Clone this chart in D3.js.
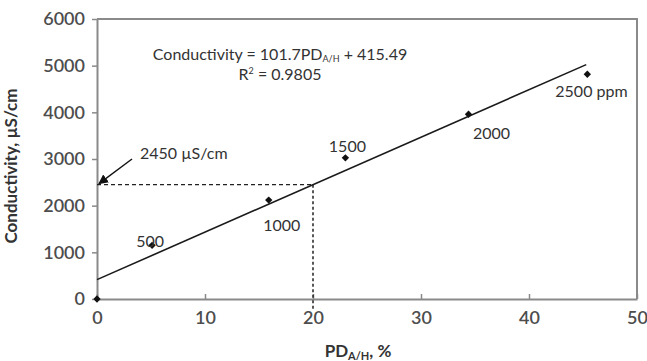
<!DOCTYPE html>
<html>
<head>
<meta charset="utf-8">
<script src="https://cdn.jsdelivr.net/npm/d3@7"></script>
<style>
  body { margin: 0; background: #fff; }
  text { font-family: Lato, "Open Sans", sans-serif; }
</style>
</head>
<body>
<script>
var pd_values = [0, 5.1, 15.9, 23.0, 34.4, 45.4];
var conductivity_values = [0, 1150, 2120, 3025, 3960, 4815];
var point_labels = ["", "500", "1000", "1500", "2000", "2500 ppm"];
var x_ticks = [0, 10, 20, 30, 40, 50];
var y_ticks = [0, 1000, 2000, 3000, 4000, 5000, 6000];
var fit_slope = 101.7;
var fit_intercept = 415.49;
var fit_range = [0, 45.3];
var target_pd = 20;
var target_conductivity = 2450;

var svg_width = 647, svg_height = 361;
var margin = {left: 97, right: 10, top: 19, bottom: 62};
var plot_width = svg_width - margin.left - margin.right;
var plot_height = svg_height - margin.top - margin.bottom;

var svg = d3.select("body").append("svg")
  .attr("width", svg_width).attr("height", svg_height);

var chartGroup = svg.append("g")
  .attr("transform", "translate(" + margin.left + "," + margin.top + ")");

var x = d3.scaleLinear().domain([0, 50]).range([0, plot_width]);
var y = d3.scaleLinear().domain([0, 6000]).range([plot_height, 0]);

// frame (top, right)
chartGroup.append("path")
  .attr("d", "M0,0H" + plot_width + "V" + plot_height)
  .attr("fill", "none").attr("stroke", "#8a8a8a").attr("stroke-width", 2);

// axes
var xAxis = d3.axisBottom(x).tickValues(x_ticks).tickFormat(d3.format("d"))
  .tickSizeInner(-5).tickSizeOuter(0).tickPadding(20);
var yAxis = d3.axisLeft(y).tickValues(y_ticks).tickFormat(d3.format("d"))
  .tickSizeInner(5).tickSizeOuter(0).tickPadding(7);

var gx = chartGroup.append("g")
  .attr("transform", "translate(0," + plot_height + ")")
  .call(xAxis);
var gy = chartGroup.append("g").call(yAxis);

[gx, gy].forEach(function(g)
{
  g.select(".domain").attr("stroke", "#8a8a8a").attr("stroke-width", 2);
  g.selectAll(".tick line").attr("stroke", "#8a8a8a").attr("stroke-width", 1.5);
  g.selectAll(".tick text")
    .attr("fill", "#4d4d4d")
    .attr("font-size", 18)
    .attr("font-family", "'Open Sans', sans-serif")
    .attr("font-weight", 600);
});
gx.selectAll(".tick text").attr("dy", "0.3em");

// dashed guide lines
chartGroup.append("line")
  .attr("x1", x(0)).attr("x2", x(target_pd))
  .attr("y1", y(target_conductivity)).attr("y2", y(target_conductivity))
  .attr("stroke", "#222").attr("stroke-width", 1.3).attr("stroke-dasharray", "4,3");
chartGroup.append("line")
  .attr("x1", x(target_pd)).attr("x2", x(target_pd))
  .attr("y1", y(target_conductivity)).attr("y2", plot_height + 12)
  .attr("stroke", "#222").attr("stroke-width", 1.5).attr("stroke-dasharray", "3,2.5");

// trend line
chartGroup.append("line")
  .attr("x1", x(fit_range[0])).attr("y1", y(fit_slope * fit_range[0] + fit_intercept))
  .attr("x2", x(fit_range[1])).attr("y2", y(fit_slope * fit_range[1] + fit_intercept))
  .attr("stroke", "#1a1a1a").attr("stroke-width", 1.6);

// data points
var points = pd_values.map(function(d, i)
{
  return {pd: d, cond: conductivity_values[i], label: point_labels[i]};
});

chartGroup.selectAll("rect.point").data(points)
  .enter().append("rect")
  .attr("class", "point")
  .attr("x", -2.6).attr("y", -2.6).attr("width", 5.2).attr("height", 5.2)
  .attr("transform", function(d) { return "translate(" + x(d.pd) + "," + y(d.cond) + ") rotate(45)"; })
  .attr("fill", "#111");

// point labels, nudged off the markers
var label_offsets = [[0, 0], [-2, 2], [13, 31], [2, -6], [23, 25], [-32, 23]];
chartGroup.selectAll("text.plabel").data(points)
  .enter().append("text")
  .attr("class", "plabel")
  .attr("x", function(d, i) { return x(d.pd) + label_offsets[i][0]; })
  .attr("y", function(d, i) { return y(d.cond) + label_offsets[i][1]; })
  .attr("text-anchor", function(d, i) { return i == 5 ? "start" : "middle"; })
  .attr("font-size", 16)
  .attr("fill", "#333")
  .text(function(d) { return d.label; });

// arrow to 2450
svg.append("defs").append("marker")
  .attr("id", "arrowhead")
  .attr("viewBox", "0 0 10 10").attr("refX", 9).attr("refY", 5)
  .attr("markerWidth", 7).attr("markerHeight", 7)
  .attr("orient", "auto")
  .append("path").attr("d", "M0,0L10,5L0,10z").attr("fill", "#111");

chartGroup.append("line")
  .attr("x1", 35).attr("y1", 140)
  .attr("x2", x(0) + 2).attr("y2", y(target_conductivity) - 1)
  .attr("stroke", "#111").attr("stroke-width", 1.4)
  .attr("marker-end", "url(#arrowhead)");

chartGroup.append("text")
  .attr("x", 43).attr("y", 140)
  .attr("font-size", 16).attr("fill", "#333")
  .text(target_conductivity + " µS/cm");

// regression equation
var eq = chartGroup.append("text")
  .attr("x", 183).attr("y", 41)
  .attr("text-anchor", "middle")
  .attr("font-size", 16).attr("fill", "#333");
eq.append("tspan").text("Conductivity = " + fit_slope + "PD");
eq.append("tspan").attr("font-size", 9).attr("dy", 2).text("A/H");
eq.append("tspan").attr("dy", -2).text(" + " + fit_intercept);

var r2 = chartGroup.append("text")
  .attr("x", 183).attr("y", 61)
  .attr("text-anchor", "middle")
  .attr("font-size", 16).attr("fill", "#333");
r2.append("tspan").text("R");
r2.append("tspan").attr("font-size", 9).attr("dy", -6).text("2");
r2.append("tspan").attr("dy", 6).text(" = 0.9805");

// axis titles
var xt = svg.append("text")
  .attr("x", 358).attr("y", 357)
  .attr("text-anchor", "middle")
  .attr("font-size", 17).attr("font-weight", "bold").attr("fill", "#333");
xt.append("tspan").text("PD");
xt.append("tspan").attr("font-size", 11).attr("dy", 3).text("A/H");
xt.append("tspan").attr("dy", -3).text(", %");

svg.append("text")
  .attr("transform", "translate(17,166) rotate(-90)")
  .attr("text-anchor", "middle")
  .attr("font-size", 17).attr("font-weight", "bold").attr("fill", "#333")
  .text("Conductivity, µS/cm");
</script>
</body>
</html>
